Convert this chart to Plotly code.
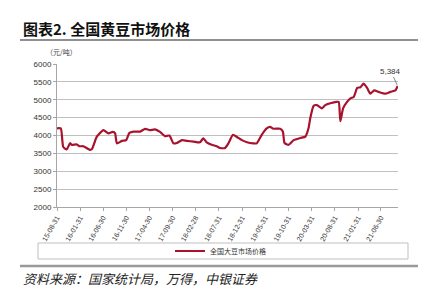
import plotly.graph_objects as go

dates = [
    "2015-08-31", "2015-09-25", "2015-10-11", "2015-11-03", "2015-11-25", "2015-12-05",
    "2016-01-08", "2016-01-25", "2016-02-20", "2016-04-04", "2016-04-17", "2016-05-18",
    "2016-07-01", "2016-08-03", "2016-09-01", "2016-09-16", "2016-09-28", "2016-10-31",
    "2016-11-28", "2016-12-19", "2017-01-15", "2017-02-28", "2017-04-01", "2017-05-03",
    "2017-06-05", "2017-07-08", "2017-08-10", "2017-09-08", "2017-10-05", "2017-10-27",
    "2017-11-30", "2018-01-01", "2018-02-14", "2018-03-28", "2018-04-19", "2018-05-11",
    "2018-06-13", "2018-07-16", "2018-08-07", "2018-09-09", "2018-10-01", "2018-10-31",
    "2018-11-26", "2018-12-29", "2019-01-31", "2019-03-14", "2019-04-05", "2019-05-08",
    "2019-06-10", "2019-07-02", "2019-07-24", "2019-09-06", "2019-09-24", "2019-10-05",
    "2019-11-01", "2019-12-04", "2020-01-17", "2020-02-19", "2020-03-11", "2020-03-22",
    "2020-04-13", "2020-05-05", "2020-06-07", "2020-06-29", "2020-08-01", "2020-09-10",
    "2020-09-25", "2020-10-06", "2020-10-24", "2020-11-19", "2020-12-11", "2021-01-02",
    "2021-01-25", "2021-02-15", "2021-03-08", "2021-03-31", "2021-04-21", "2021-05-17",
    "2021-06-15", "2021-07-28", "2021-08-31", "2021-10-03", "2021-10-18",
]
prices = [
    4200, 4200, 3680, 3610, 3790, 3740,
    3750, 3700, 3700, 3600, 3620, 3960,
    4150, 4060, 4100, 4060, 3780, 3850,
    3870, 4075, 4110, 4110, 4185, 4150,
    4170, 4100, 3980, 4000, 3780, 3790,
    3870, 3850, 3830, 3810, 3920, 3810,
    3740, 3700, 3650, 3650, 3780, 4020,
    3960, 3870, 3810, 3780, 3780, 4020,
    4200, 4240, 4190, 4190, 4110, 3790,
    3740, 3870, 3930, 3970, 4210, 4480,
    4830, 4850, 4760, 4850, 4900, 4940,
    4940, 4400, 4760, 4940, 5040, 5080,
    5330, 5350, 5450, 5330, 5170, 5260,
    5220, 5170, 5220, 5260, 5384,
]
tick_dates = ["2015-08-31", "2016-01-31", "2016-06-30", "2016-11-30", "2017-04-30",
              "2017-09-30", "2018-02-28", "2018-07-31", "2018-12-31", "2019-05-31",
              "2019-10-31", "2020-03-31", "2020-08-31", "2021-01-31", "2021-06-30"]
tick_text = ["15-08-31", "16-01-31", "16-06-30", "16-11-30", "17-04-30",
             "17-09-30", "18-02-28", "18-07-31", "18-12-31", "19-05-31",
             "19-10-31", "20-03-31", "20-08-31", "21-01-31", "21-06-30"]
y_ticks = [2000, 2500, 3000, 3500, 4000, 4500, 5000, 5500, 6000]
series_name = "全国大豆市场价格"
title_text = "<b>图表2. 全国黄豆市场价格</b>"
unit_text = "（元/吨）"
source_text = "<i>资料来源：国家统计局，万得，中银证券</i>"
last_label = "5,384"

W, H = 427, 294
L, R, T, B = 57, 398, 64, 207

def px(x):
    return (x - L) / (R - L)

def py(y):
    return (B - y) / (B - T)

fig = go.Figure()
fig.add_trace(go.Scatter(
    x=dates, y=prices, mode="lines", name=series_name,
    line=dict(color="#A8122C", width=2.2, shape="spline", smoothing=0.5),
))

cjk = "Noto Sans CJK SC"
fig.update_layout(
    width=W, height=H,
    margin=dict(l=L, r=W - R, t=T, b=H - B),
    paper_bgcolor="white", plot_bgcolor="white",
    showlegend=True,
    legend=dict(orientation="h", x=px(170), xanchor="left", y=py(251), yanchor="middle",
                font=dict(family=cjk, size=7, color="#333"),
                bgcolor="rgba(0,0,0,0)", itemwidth=30),
    xaxis=dict(type="date", range=["2015-08-31", "2021-10-20"],
               tickvals=tick_dates, ticktext=tick_text, tickangle=-60,
               showgrid=False, showline=True, linecolor="#a6a6a6", linewidth=1,
               ticks="outside", ticklen=3, tickcolor="#a6a6a6",
               tickfont=dict(family="Liberation Sans", size=7, color="#333")),
    yaxis=dict(range=[2000, 6000], tickvals=y_ticks,
               showgrid=True, gridcolor="#c0c0c0", gridwidth=1,
               showline=True, linecolor="#a6a6a6", linewidth=1,
               ticks="outside", ticklen=3, tickcolor="#a6a6a6",
               zeroline=False,
               tickfont=dict(family="Liberation Sans", size=8, color="#333")),
    shapes=[
        dict(type="line", xref="paper", yref="paper", x0=px(20), x1=px(418),
             y0=py(40), y1=py(40), line=dict(color="#222", width=1.2)),
        dict(type="line", xref="paper", yref="paper", x0=px(20), x1=px(418),
             y0=py(266), y1=py(266), line=dict(color="#9a9a9a", width=2.5)),
        dict(type="rect", xref="paper", yref="paper", x0=px(38), x1=px(408),
             y0=py(259), y1=py(243), line=dict(color="#bfbfbf", width=1)),
    ],
    annotations=[
        dict(text=title_text, xref="paper", yref="paper", x=px(21), y=py(28),
             xanchor="left", yanchor="middle", showarrow=False,
             font=dict(family=cjk, size=15, color="#111")),
        dict(text=unit_text, xref="paper", yref="paper", x=px(61), y=py(52),
             xanchor="center", yanchor="middle", showarrow=False,
             font=dict(family=cjk, size=7, color="#444")),
        dict(text=source_text, xref="paper", yref="paper", x=px(21), y=py(278),
             xanchor="left", yanchor="middle", showarrow=False,
             font=dict(family=cjk, size=13, color="#222")),
        dict(text=last_label, x=dates[-1], y=prices[-1], xref="x", yref="y",
             ax=-7, ay=-15, showarrow=True, arrowhead=0, arrowwidth=0.7,
             arrowcolor="#555", standoff=1,
             font=dict(family="Liberation Sans", size=8, color="#333")),
    ],
)

fig.write_html("out.html")
